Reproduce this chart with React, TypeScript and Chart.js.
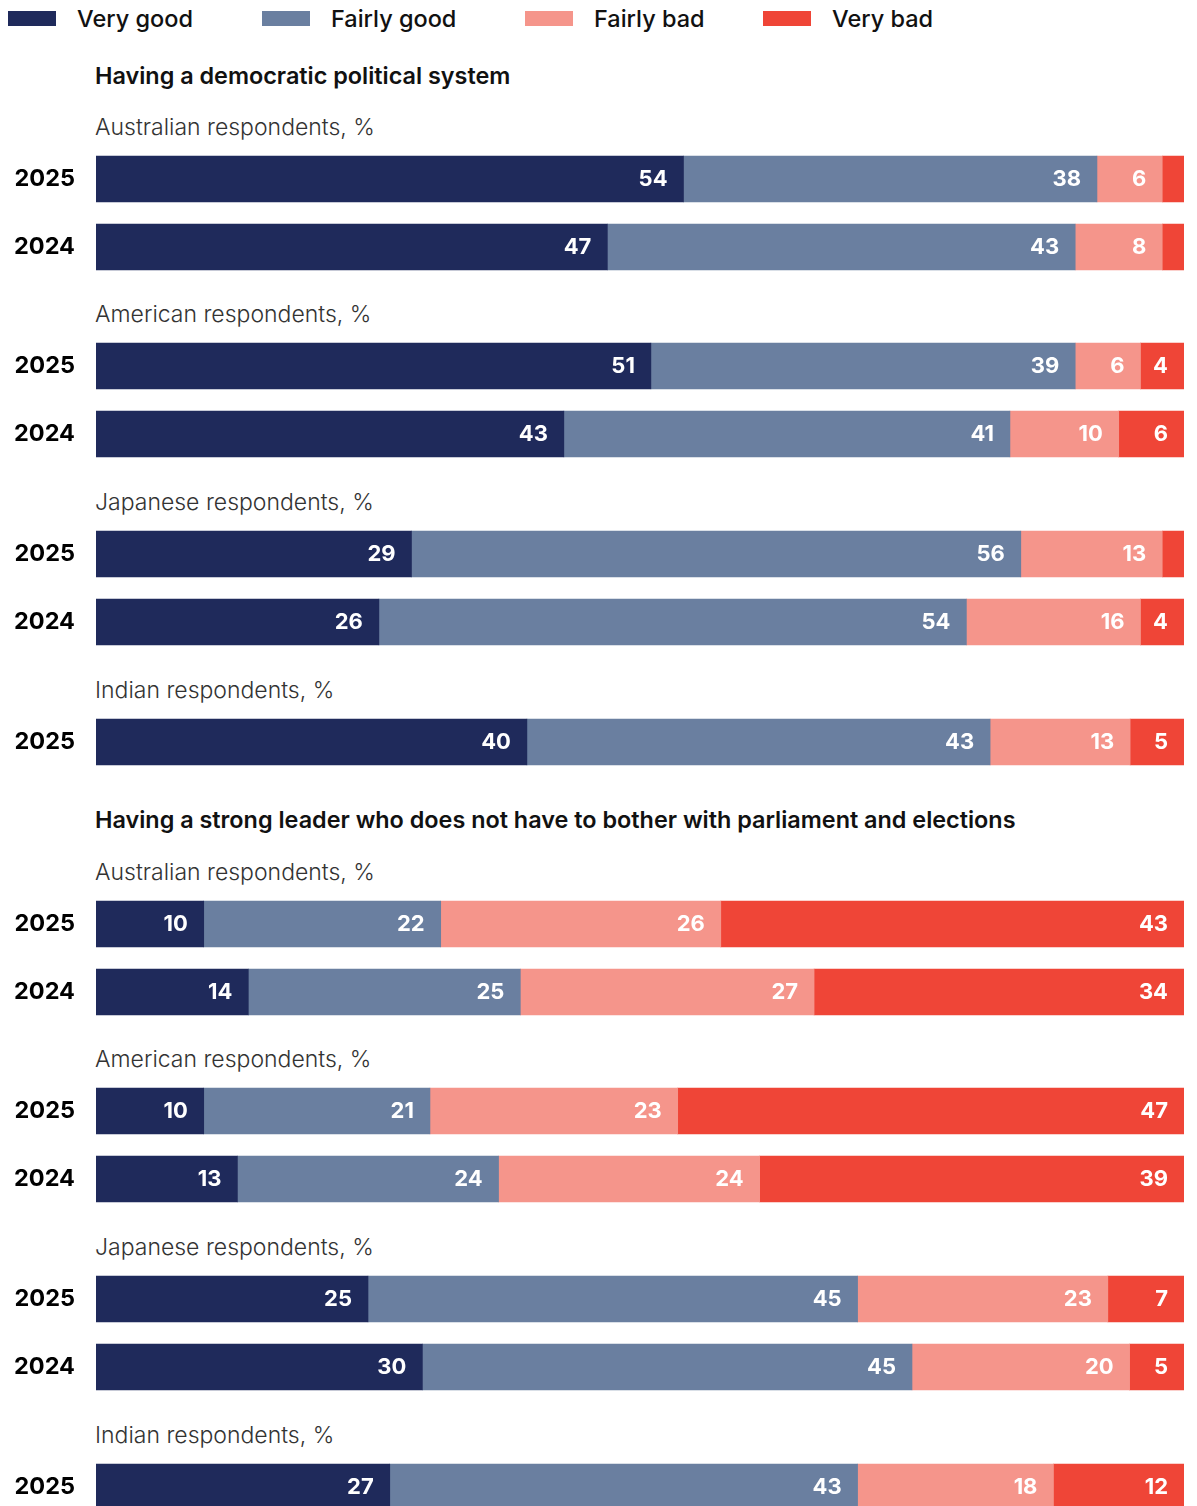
import React, { useEffect, useRef } from "react";
import { Chart, registerables } from "chart.js";

Chart.register(...registerables);

if (typeof document !== "undefined") {
  document.documentElement.style.overflow = "hidden";
}

// ---- data ----
const seriesNames = ["Very good", "Fairly good", "Fairly bad", "Very bad"];
const seriesColors = ["#1f2a5b", "#6a7fa0", "#f5958b", "#ef4537"];

const sectionTitles = [
  "Having a democratic political system",
  "Having a strong leader who does not have to bother with parliament and elections",
];
const groupNames = [
  "Australian respondents, %",
  "American respondents, %",
  "Japanese respondents, %",
  "Indian respondents, %",
];

const twoYears = ["2025", "2024"];
const oneYear = ["2025"];

// each row: [Very good, Fairly good, Fairly bad, Very bad]
const democracyAustralian = [[54, 38, 6, 2], [47, 43, 8, 2]];
const democracyAmerican = [[51, 39, 6, 4], [43, 41, 10, 6]];
const democracyJapanese = [[29, 56, 13, 2], [26, 54, 16, 4]];
const democracyIndian = [[40, 43, 13, 5]];

const leaderAustralian = [[10, 22, 26, 43], [14, 25, 27, 34]];
const leaderAmerican = [[10, 21, 23, 47], [13, 24, 24, 39]];
const leaderJapanese = [[25, 45, 23, 7], [30, 45, 20, 5]];
const leaderIndian = [[27, 43, 18, 12]];

const minLabelValue = 3;

// ---- layout ----
const FONT = "Inter, 'Open Sans', sans-serif";
const CHART_W = 1181;
const ROW_H = 68;
const legendWidths = [254, 263, 238, 200];

const sections = [
  {
    title: sectionTitles[0],
    titleH: 66,
    groups: [
      { name: groupNames[0], years: twoYears, rows: democracyAustralian, gap: 51 },
      { name: groupNames[1], years: twoYears, rows: democracyAmerican, gap: 51 },
      { name: groupNames[2], years: twoYears, rows: democracyJapanese, gap: 52 },
      { name: groupNames[3], years: oneYear, rows: democracyIndian, gap: 52 },
    ],
  },
  {
    title: sectionTitles[1],
    titleH: 62,
    groups: [
      { name: groupNames[0], years: twoYears, rows: leaderAustralian, gap: 52 },
      { name: groupNames[1], years: twoYears, rows: leaderAmerican, gap: 51 },
      { name: groupNames[2], years: twoYears, rows: leaderJapanese, gap: 52 },
      { name: groupNames[3], years: oneYear, rows: leaderIndian, gap: 52 },
    ],
  },
];

function GroupChart({ years, rows }: { years: string[]; rows: number[][] }) {
  const ref = useRef<HTMLCanvasElement>(null);
  useEffect(() => {
    if (!ref.current) return;
    const totals = rows.map((r) => r.reduce((a, b) => a + b, 0));
    const labelPlugin = {
      id: "valueLabels",
      afterDatasetsDraw(chart: any) {
        const ctx = chart.ctx;
        ctx.save();
        ctx.font = `700 22px ${FONT}`;
        ctx.fillStyle = "#ffffff";
        ctx.textAlign = "right";
        ctx.textBaseline = "middle";
        chart.data.datasets.forEach((_ds: any, i: number) => {
          const meta = chart.getDatasetMeta(i);
          meta.data.forEach((bar: any, j: number) => {
            const v = rows[j][i];
            if (v < minLabelValue) return;
            ctx.fillText(String(v), bar.x - 16, bar.y);
          });
        });
        ctx.restore();
      },
    };
    const chart = new Chart(ref.current, {
      type: "bar",
      data: {
        labels: years,
        datasets: seriesNames.map((name, i) => ({
          label: name,
          data: rows.map((r, j) => (r[i] / totals[j]) * 100),
          backgroundColor: seriesColors[i],
          borderWidth: 0,
          barThickness: 46,
        })),
      },
      options: {
        indexAxis: "y",
        responsive: false,
        maintainAspectRatio: false,
        animation: false,
        layout: { padding: { left: 0, right: 5, top: 0, bottom: 0 } },
        plugins: { legend: { display: false }, tooltip: { enabled: false } },
        scales: {
          x: { stacked: true, min: 0, max: 100, display: false },
          y: {
            stacked: true,
            grid: { display: false, drawTicks: false },
            border: { display: false },
            ticks: {
              color: "#000000",
              font: { family: FONT, size: 23.5, weight: "bold" },
              padding: 21,
            },
            afterFit: (s: any) => {
              s.width = 88;
              s.paddingTop = 0;
              s.paddingBottom = 0;
            },
          },
        },
      },
      plugins: [labelPlugin],
    } as any);
    return () => chart.destroy();
  }, [years, rows]);
  return (
    <canvas
      ref={ref}
      width={CHART_W}
      height={years.length * ROW_H}
      style={{ display: "block", width: CHART_W, height: years.length * ROW_H }}
    />
  );
}

function TextBlock({ h, text, style }: { h: number; text: string; style: React.CSSProperties }) {
  return (
    <div style={{ height: h, display: "flex", alignItems: "flex-end", paddingLeft: 87, boxSizing: "border-box" }}>
      <div style={{ lineHeight: "24px", paddingBottom: 6, whiteSpace: "nowrap", ...style }}>{text}</div>
    </div>
  );
}

export default function App() {
  return (
    <div style={{ width: CHART_W, fontFamily: FONT }}>
      <div style={{ display: "flex", height: 20, alignItems: "center" }}>
        {seriesNames.map((n, i) => (
          <div key={n} style={{ display: "flex", alignItems: "center", width: legendWidths[i], flex: "none" }}>
            <span style={{ display: "block", width: 48, height: 15, background: seriesColors[i], marginRight: 21 }} />
            <span style={{ fontSize: 23.5, fontWeight: 500, color: "#111", whiteSpace: "nowrap" }}>{n}</span>
          </div>
        ))}
      </div>
      {sections.map((sec, si) => (
        <div key={si}>
          <TextBlock h={sec.titleH} text={sec.title} style={{ fontSize: 23.4, fontWeight: 600, color: "#111" }} />
          {sec.groups.map((g, gi) => (
            <div key={gi}>
              <TextBlock h={g.gap} text={g.name} style={{ fontSize: 23, fontWeight: 300, color: "#333" }} />
              <GroupChart years={g.years} rows={g.rows} />
            </div>
          ))}
        </div>
      ))}
    </div>
  );
}
